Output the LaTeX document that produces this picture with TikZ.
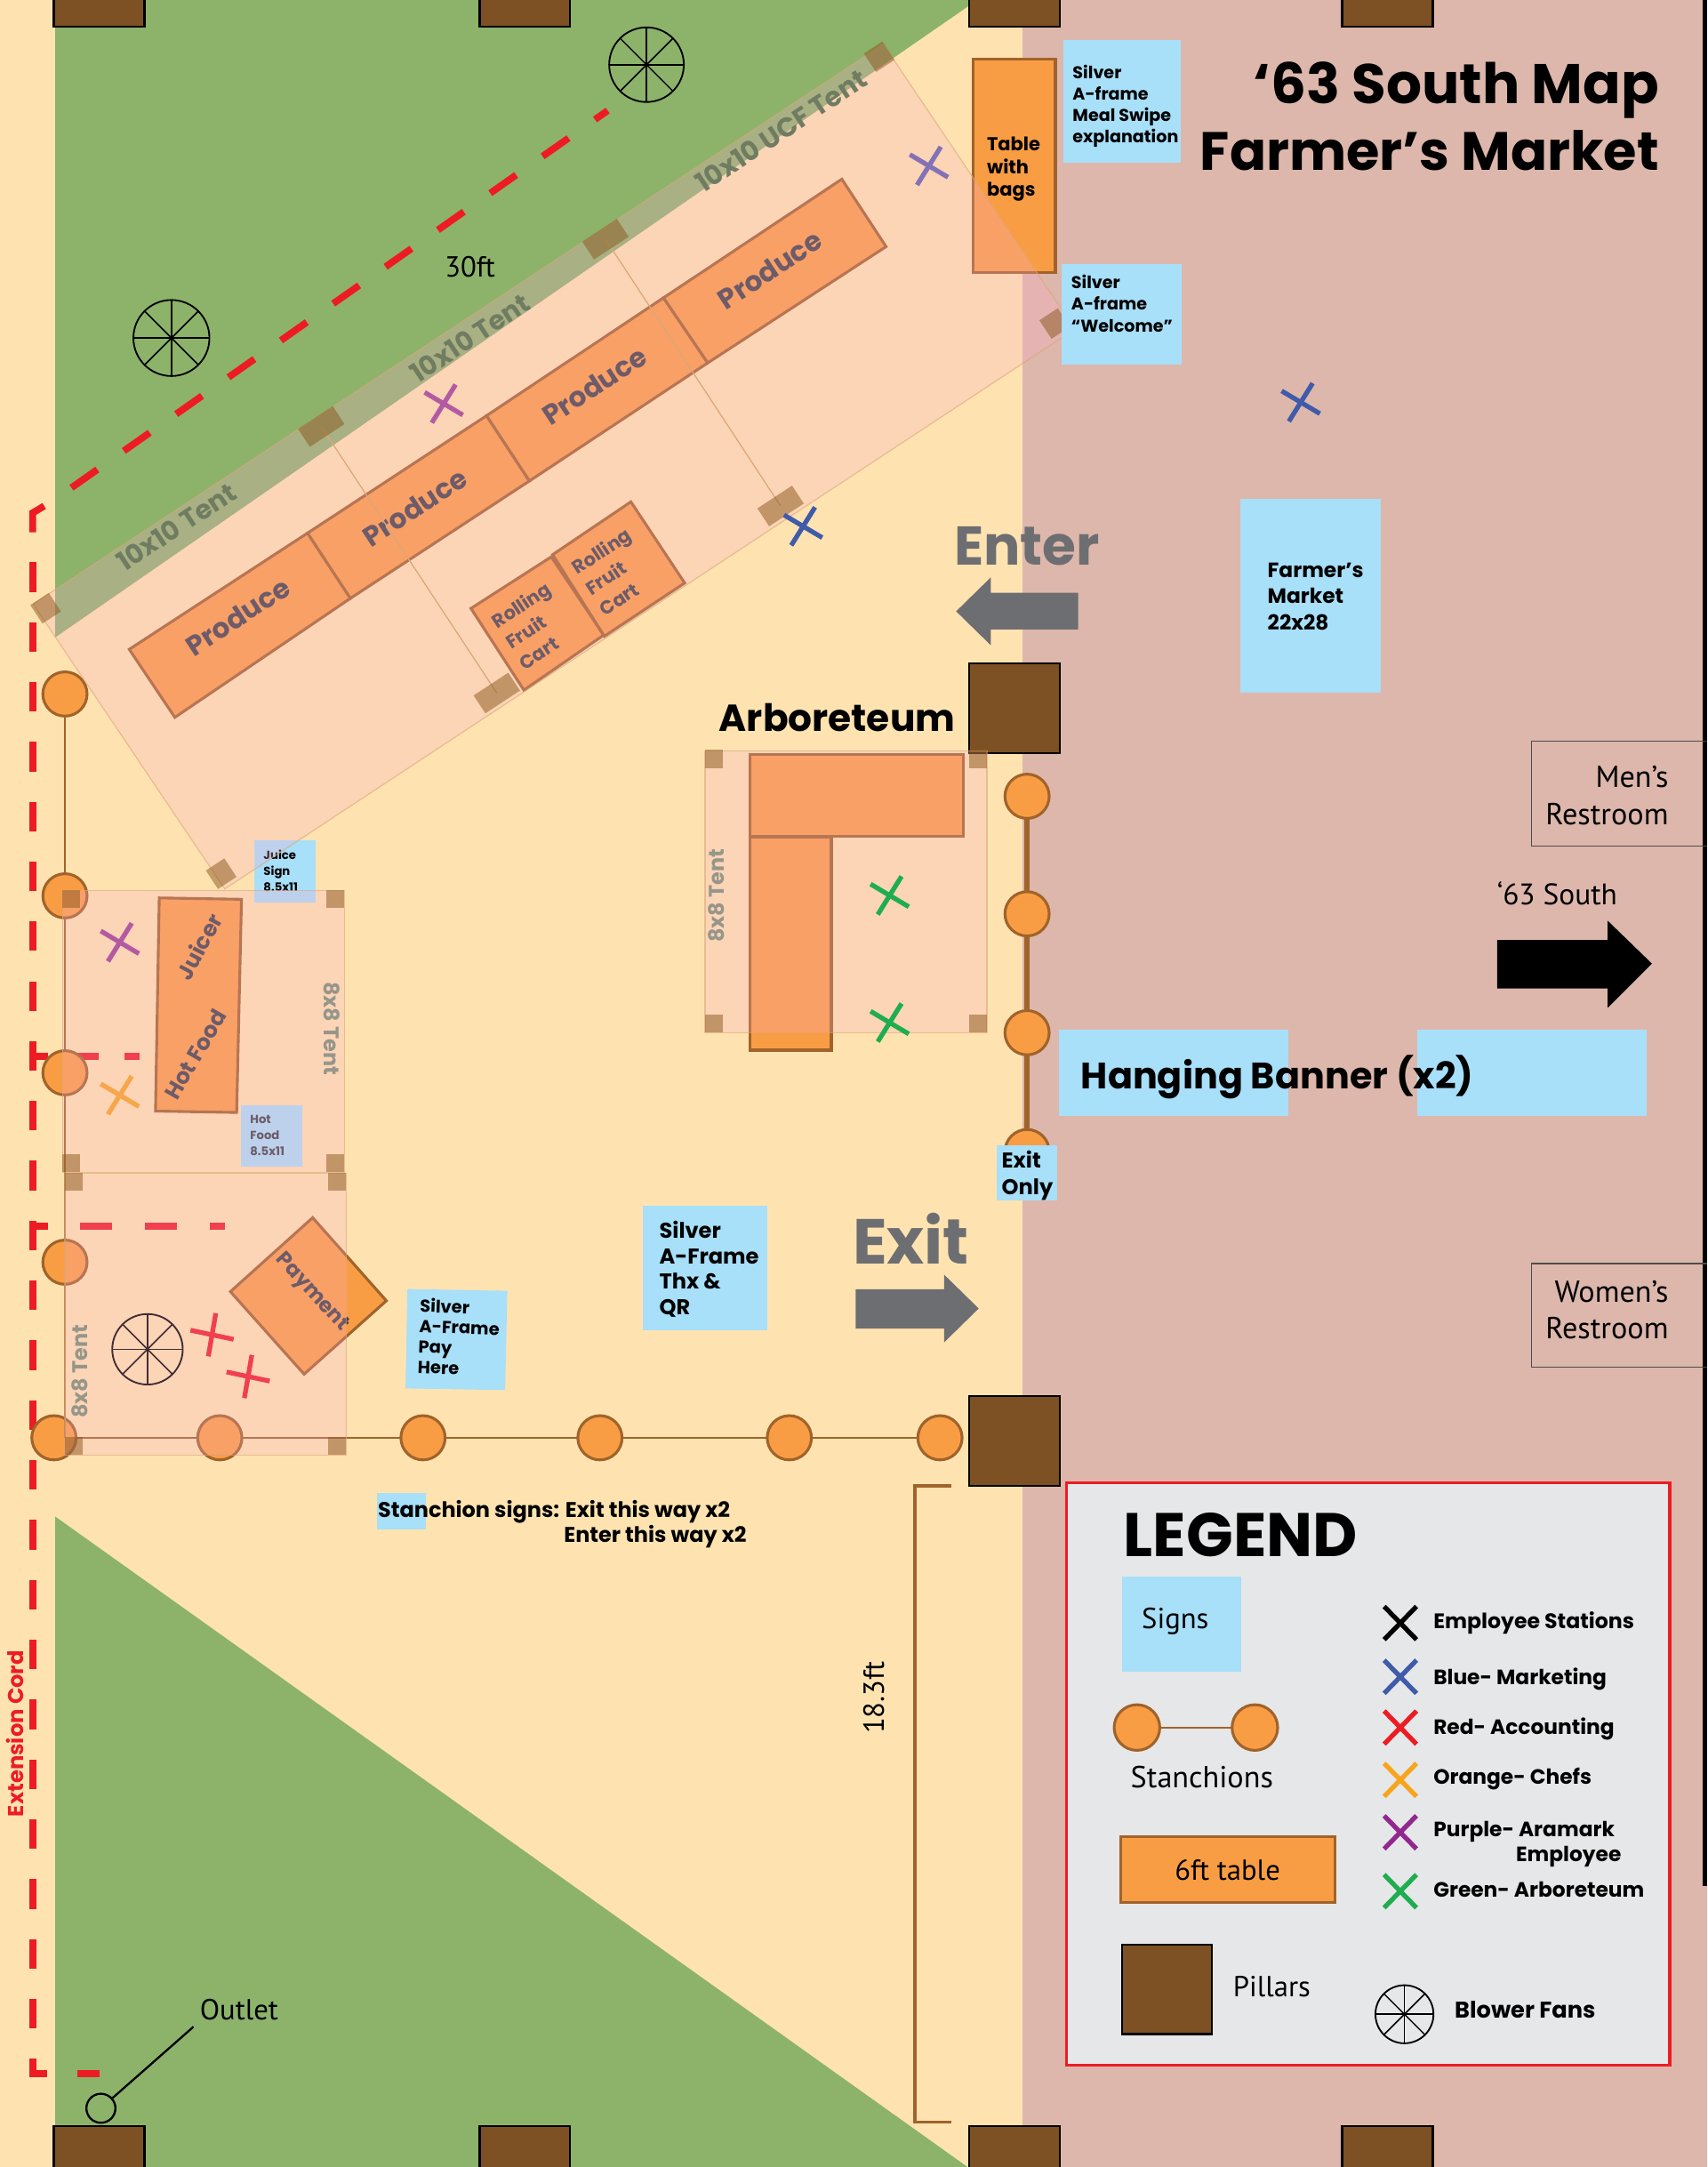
\documentclass[tikz,border=0pt]{standalone}
\usepackage{fontspec}
\setmainfont{PT Sans}
\newfontfamily\mont[BoldFont={Poppins Bold}]{Poppins}
\newcommand{\fs}[2]{\fontsize{#1}{#2}\selectfont}
\definecolor{cream}{HTML}{FEE3B1}
\definecolor{pinkbg}{HTML}{DDB7AB}
\definecolor{grass}{HTML}{8DB36B}
\definecolor{pillarc}{HTML}{7D5123}
\definecolor{tablec}{HTML}{F99D44}
\definecolor{edgec}{HTML}{A0632B}
\definecolor{signc}{HTML}{A8DFF9}
\definecolor{tentc}{HTML}{FAAAC8}
\definecolor{tentl}{HTML}{D9A878}
\definecolor{postc}{HTML}{8A581E}
\definecolor{cordc}{HTML}{ED1C24}
\definecolor{greyc}{HTML}{6D6E71}
\definecolor{legbg}{HTML}{E6E7E8}
\definecolor{labc}{HTML}{3C4048}
\definecolor{tentlab}{HTML}{96968A}
\definecolor{bandlab}{HTML}{707C62}
\definecolor{xblue}{HTML}{3F5BA9}
\definecolor{xfade}{HTML}{5A5FB0}
\definecolor{xpurple}{HTML}{92278F}
\definecolor{xpfade}{HTML}{9A3F96}
\definecolor{xorange}{HTML}{F7A51E}
\definecolor{xgreen}{HTML}{1EAD4F}
\tikzset{
 pillar/.style={fill=pillarc,draw=black,line width=1.5pt},
 tablebox/.style={fill=tablec,draw=edgec,line width=2pt,line join=miter},
 tentbox/.style={fill=tentc,fill opacity=.26,draw=tentl,draw opacity=.6,line width=.8pt},
 tentpost/.style={fill=postc,fill opacity=.5,draw=none,inner sep=0pt,outer sep=0pt,rectangle},
 stanch/.style={circle,fill=tablec,draw=edgec,line width=2pt,minimum size=32pt,inner sep=0pt,outer sep=0pt},
 rope/.style={draw=edgec,line width=1.6pt},
 cord/.style={draw=cordc,line width=5pt},
 signbg/.style={fill=signc,draw=none},
 mb/.style={font=\mont\bfseries,inner sep=0pt,outer sep=0pt},
 my/.style={inner sep=0pt,outer sep=0pt},
 xline/.style={line width=3.4pt},
 blade/.style={draw=black,line width=1.2pt},
}
\newcommand{\crossA}[3]{\draw[xline,#3] (#1-13.8,#2-8.2) -- (#1+13.8,#2+8.2) (#1+8.6,#2-13.8) -- (#1-8.6,#2+13.8);}
\newcommand{\crossB}[3]{\draw[xline,#3] (#1-15.6,#2-3.3) -- (#1+15.6,#2+3.3) (#1+2.7,#2-15.6) -- (#1-2.7,#2+15.6);}
\newcommand{\crossL}[3]{\draw[xline,#3] (#1-11.7,#2-12) -- (#1+11.7,#2+12) (#1+11.7,#2-12) -- (#1-11.7,#2+12);}
\newcommand{\fan}[3]{\begin{scope}[shift={(#1,#2)}]
 \draw[blade] (0,0) circle (#3pt);
 \foreach \a in {0,45,90,135}{\draw[blade,line width=1pt] ({\a}:#3pt) -- ({\a+180}:#3pt);}
 \end{scope}}
\newcommand{\mpost}[2]{\node[tentpost,minimum width=30pt,minimum height=15.5pt,rotate=33.3] at (#1,#2) {};}
\newcommand{\cpost}[2]{\node[tentpost,minimum width=16pt,minimum height=16pt,rotate=33.3] at (#1,#2) {};}
\newcommand{\spost}[2]{\node[tentpost,minimum width=13pt,minimum height=13pt] at (#1,#2) {};}
\begin{document}
\begin{tikzpicture}[x=1pt,y=-1pt]
\useasboundingbox (0,0) rectangle (1235,1567.5);
% ground
\fill[cream] (0,0) rectangle (740,1567.5);
\fill[pinkbg] (740,0) rectangle (1235,1567.5);
\fill[grass] (40,0) -- (707,0) -- (40,461) -- cycle;
\fill[grass] (40,1097) -- (700,1567.5) -- (40,1567.5) -- cycle;
\fill[black] (1232,0) rectangle (1235,1364);
% extension cord
\draw[cord,dash pattern=on 22.9pt off 23.4pt] (51.7,352.8) -- (439.6,80);
\draw[cord] (32,366) -- (23.6,371) -- (23.6,385);
\draw[cord,dash pattern=on 21.4pt off 21.9pt] (23.6,406.7) -- (23.6,1500) -- (72,1500);
\draw[cord] (21.3,764.3) -- (34.7,764.3) (52.8,764.3) -- (71.5,764.3) (89.9,764.3) -- (100.8,764.3);
\draw[cord] (21.3,886.8) -- (34.7,886.8) (58,886.8) -- (81.3,886.8) (104.8,886.8) -- (128,886.8) (151.5,886.8) -- (162.7,886.8);
% pillars
\foreach \px in {39,347,701,971}{
 \draw[pillar] (\px,-3) rectangle (\px+65.5,19.5);
 \draw[pillar] (\px,1538) rectangle (\px+65.5,1571);
}
\draw[pillar] (701,480) rectangle (766.5,545);
\draw[pillar] (701,1010) rectangle (766.5,1075);
% tables
\draw[tablebox] (93.5,469.7) -- (222.5,385.6) -- (253.5,432.8) -- (126.5,518.9) -- cycle;
\draw[tablebox] (222.5,385.6) -- (352,300.7) -- (383,347.9) -- (253.5,432.8) -- cycle;
\draw[tablebox] (352,300.7) -- (480,215.4) -- (512,262.5) -- (383,347.9) -- cycle;
\draw[tablebox] (480,215.4) -- (609,129.6) -- (641,178.4) -- (512,262.5) -- cycle;
\draw[tablebox] (340.7,440.1) -- (398.8,402.8) -- (436.7,459.4) -- (379,499.2) -- cycle;
\draw[tablebox] (399.8,401.2) -- (456.4,363) -- (495.3,421.7) -- (437.2,460.2) -- cycle;
\draw[tablebox] (704,42.7) rectangle (763.5,197);
\draw[tablebox] (542.4,546) rectangle (696.8,605);
\draw[tablebox] (542.4,605.5) rectangle (601.4,759.6);
\draw[tablebox] (115.2,649.5) -- (174.7,650.5) -- (171.2,804.7) -- (112.5,803.7) -- cycle;
\draw[tablebox] (226.2,880.8) -- (279.5,940.9) -- (220,994) -- (166.7,934.3) -- cycle;
% table labels
\foreach \nm/\cx/\cy in {prodA/172/446,prodB/300/367,prodC/430/279,prodD/557/195}{
 \node[mb,font=\mont\bfseries\fs{20}{24},text=labc,rotate=33.3] (\nm) at (\cx,\cy) {Produce};
}
\node[mb,font=\mont\bfseries\fs{13.5}{18},text=labc,rotate=33.3,align=left,anchor=west] (cartA) at (367,465.6) {Rolling\\Fruit\\Cart};
\node[mb,font=\mont\bfseries\fs{13.5}{18},text=labc,rotate=33.3,align=left,anchor=west] (cartB) at (425,426.6) {Rolling\\Fruit\\Cart};
\node[mb,font=\mont\bfseries\fs{16}{20},text=labc,rotate=62] (juicer) at (144,684.6) {Juicer};
\node[mb,font=\mont\bfseries\fs{16}{20},text=labc,rotate=60] (hotfood) at (141.4,762.7) {Hot Food};
\node[mb,font=\mont\bfseries\fs{15}{20},text=labc,rotate=-47.5] (payment) at (225.4,935) {Payment};
\node[mb,font=\mont\bfseries\fs{13.5}{16.5},anchor=north west,align=left] (bags) at (714,99) {Table\\with\\bags};
% stanchions
\foreach \nm/\sx/\sy in {a/47/502,b/47/648,c/47/776,d/47/913,e/39/1040,f/159/1040,g/306/1040,h/434/1040,i/571/1040,j/680/1040,k/743/576,l/743/661,m/743/747,n/743/833}{
 \node[stanch] (\nm) at (\sx,\sy) {};
}
\draw[rope] (a) -- (b);
\draw[rope] (b) -- (c);
\draw[rope] (c) -- (d);
\draw[rope] (d) -- (47,1040);
\draw[rope] (e) -- (f);
\draw[rope] (f) -- (g);
\draw[rope] (g) -- (h);
\draw[rope] (h) -- (i);
\draw[rope] (i) -- (j);
\draw[rope,line width=3.5pt] (k) -- (l);
\draw[rope,line width=3.5pt] (l) -- (m);
\draw[rope,line width=3.5pt] (m) -- (n);
% signs beneath the tents
\fill[signbg] (184,608) rectangle (228.6,652.8);
\node[mb,font=\mont\bfseries\fs{8.5}{11.5},anchor=north west,align=left] (juice) at (190.7,615) {Juice\\Sign\\8.5x11};
\fill[signbg] (174.2,799.5) rectangle (218.7,843.7);
\node[mb,font=\mont\bfseries\fs{8.5}{11.5},anchor=north west,align=left,text=labc] (hot) at (181,807) {Hot\\Food\\8.5x11};
% crosses and fans beneath the tents
\crossA{321}{292}{color=xpfade}
\crossA{672}{120}{color=xfade}
\crossA{86.7}{681.6}{color=xpfade}
\crossA{86.7}{792.2}{color=xorange}
\crossB{153.4}{965.5}{color=cordc}
\crossB{179.5}{995.7}{color=cordc}
\fan{106.7}{976}{25.5}
% tents
\draw[tentbox] (24,437) -- (639,32) -- (777.6,238) -- (162.6,643) -- cycle;
\draw[tentbox] (510,543) rectangle (714,747);
\draw[tentbox] (45.3,644) rectangle (249,848);
\draw[tentbox] (47,848.7) rectangle (250.7,1052.5);
\draw[tentl,line width=.8pt] (438,173) -- (564.7,366) (232.4,308.5) -- (359.4,501.3);
% tent posts
\mpost{438}{173}\mpost{232.4}{308.5}\mpost{564.7}{366}\mpost{359.4}{501.3}
\cpost{33}{440}\cpost{636}{41}\cpost{763}{234}\cpost{160}{632}
\spost{516.5}{549}\spost{707.5}{549}\spost{516.5}{740.5}\spost{707.5}{740.5}
\spost{51.7}{650.5}\spost{242.5}{650.5}\spost{51.7}{841.5}\spost{242.5}{841.5}
\spost{53.5}{855}\spost{244}{855}\spost{53.5}{1046}\spost{244}{1046}
% tent labels
\node[mb,font=\mont\bfseries\fs{19.2}{21},text=bandlab,rotate=33.3] (tentA) at (127.5,381) {10x10 Tent};
\node[mb,font=\mont\bfseries\fs{19.2}{21},text=bandlab,rotate=33.3] (tentB) at (340,244.5) {10x10 Tent};
\node[mb,font=\mont\bfseries\fs{19.5}{21},text=bandlab,rotate=33.3] (tentC) at (565,94.5) {10x10 UCF Tent};
\node[mb,font=\mont\bfseries\fs{15.4}{17},text=tentlab,rotate=-90] (tentD) at (240,744) {8x8 Tent};
\node[mb,font=\mont\bfseries\fs{15.4}{17},text=tentlab,rotate=90] (tentE) at (58,992) {8x8 Tent};
\node[mb,font=\mont\bfseries\fs{15.4}{17},text=tentlab,rotate=90] (tentF) at (518,648) {8x8 Tent};
% crosses above the tents
\crossA{581}{380.7}{color=xblue}
\crossA{941}{291}{color=xblue}
\crossA{643.6}{647.7}{color=xgreen}
\crossA{643.6}{739.7}{color=xgreen}
% fans above
\fan{467.7}{46.8}{27}
\fan{124}{244.5}{27.5}
% signs
\fill[signbg] (769,29) rectangle (854,118);
\node[mb,font=\mont\bfseries\fs{12.3}{15.4},anchor=north west,align=left] (signA) at (776,47) {Silver\\A-frame\\Meal Swipe\\explanation};
\fill[signbg] (768,191) rectangle (855,264);
\node[mb,font=\mont\bfseries\fs{12.3}{15.6},anchor=north west,align=left] (signB) at (775,199) {Silver\\A-frame\\“Welcome”};
\fill[signbg] (897,361) rectangle (999,501);
\node[mb,font=\mont\bfseries\fs{15}{19},anchor=north west,align=left] (signC) at (917,407) {Farmer’s\\Market\\22x28};
\fill[signbg] (294.7,932.4) -- (367,933.7) -- (365.4,1005.5) -- (293.4,1004.3) -- cycle;
\node[mb,font=\mont\bfseries\fs{12.5}{14.8},anchor=north west,align=left,rotate=-2] (signD) at (304,939) {Silver\\A-Frame\\Pay\\Here};
\fill[signbg] (465,872) rectangle (555,962);
\node[mb,font=\mont\bfseries\fs{15.5}{18.3},anchor=north west,align=left] (signE) at (477,883.5) {Silver\\A-Frame\\Thx \&\\QR};
\fill[signbg] (721,828.5) rectangle (765,868.3);
\node[mb,font=\mont\bfseries\fs{15.5}{19},anchor=north west,align=left] (signF) at (724.7,832.5) {Exit\\Only};
\fill[signbg] (766,745) rectangle (932,807);
\fill[signbg] (1025,745) rectangle (1191,807);
\node[mb,font=\mont\bfseries\fs{26.6}{30},anchor=west] (banner) at (782,779) {Hanging Banner (x2)};
\fill[signbg] (273,1080) rectangle (308,1106);
\node[mb,font=\mont\bfseries\fs{15.4}{18},anchor=west] (stanA) at (273.5,1093.5) {Stanchion signs: Exit this way x2};
\node[mb,font=\mont\bfseries\fs{15.4}{18},anchor=west] (stanB) at (408,1111.5) {Enter this way x2};
% titles
\node[mb,font=\mont\bfseries\fs{40.4}{44},anchor=base east] (titleA) at (1200,75) {‘63 South Map};
\node[mb,font=\mont\bfseries\fs{39}{44},anchor=base east] (titleB) at (1200,123) {Farmer’s Market};
\node[mb,font=\mont\bfseries\fs{39.5}{42},text=greyc] (enter) at (743,395) {Enter};
\fill[greyc] (691.7,442.2) -- (716.8,417.6) -- (716.8,428.7) -- (780,428.7) -- (780,455.3) -- (716.8,455.3) -- (716.8,466.8) -- cycle;
\node[mb,font=\mont\bfseries\fs{46}{50},text=greyc] (exit) at (659,896) {Exit};
\fill[greyc] (619,932.5) -- (683,932.5) -- (683,922) -- (708,946.5) -- (683,971) -- (683,961) -- (619,961) -- cycle;
\node[mb,font=\mont\bfseries\fs{27.2}{32},anchor=base east] (arbor) at (691,529) {Arboreteum};
\fill[black] (1083,680) -- (1163,680) -- (1163,666) -- (1195,697) -- (1163,729) -- (1163,715) -- (1083,715) -- cycle;
\node[my,font=\fs{21.5}{24},anchor=west] (south) at (1083,646) {‘63 South};
\draw[draw=black!70,line width=.8pt] (1235,536) -- (1108,536) -- (1108,612) -- (1235,612);
\draw[draw=black!70,line width=.8pt] (1235,914) -- (1108,914) -- (1108,989) -- (1235,989);
\node[my,font=\fs{22}{27},align=right,anchor=east] (men) at (1207,575.5) {Men’s\hspace{4pt}\\Restroom};
\node[my,font=\fs{22}{27},align=right,anchor=east] (women) at (1207,947.5) {Women’s\\Restroom};
\node[my,font=\fs{21}{24}] (thirty) at (340,193) {30ft};
\node[my,font=\fs{21}{24},rotate=90] (eighteen) at (632,1228) {18.3ft};
\coordinate (brTop) at (688,1075);
\coordinate (brBot) at (688,1535);
\draw[draw=edgec,line width=2.5pt] (brTop) -- (662,1075) -- (662,1535) -- (brBot);
\node[mb,font=\mont\bfseries\fs{15.6}{17},text=cordc,rotate=90] (extcord) at (11,1254) {Extension Cord};
\node[circle,draw=black,line width=1.5pt,minimum size=21pt,inner sep=0pt] (outlet) at (73,1525) {};
\coordinate (outletEnd) at (140,1466);
\draw[black,line width=1.5pt] (outlet) -- (outletEnd);
\node[my,font=\fs{21}{24}] (outletLab) at (173,1454) {Outlet};
% legend
\draw[fill=legbg,draw=cordc,line width=2pt] (771.3,1072.7) rectangle (1207.9,1493.7);
\node[mb,font=\mont\bfseries\fs{44.5}{48},anchor=west] (legend) at (813,1110) {LEGEND};
\fill[signbg] (811.7,1140.2) rectangle (897.7,1209.4);
\node[my,font=\fs{21}{24},anchor=west] (legSigns) at (826,1173) {Signs};
\node[stanch,minimum size=33pt] (legA) at (822.5,1249.6) {};
\node[stanch,minimum size=33pt] (legB) at (907.8,1249.6) {};
\draw[rope] (legA) -- (legB);
\node[my,font=\fs{22}{24}] (legStan) at (869.5,1285.5) {Stanchions};
\draw[tablebox] (811,1328.3) rectangle (966,1376);
\node[my,font=\fs{21}{24}] (legTable) at (888,1353) {6ft table};
\draw[pillar] (811.7,1406.7) rectangle (876.8,1471.3);
\node[my,font=\fs{21}{24}] (legPillar) at (920,1437) {Pillars};
\crossL{1013}{1174}{color=black}
\crossL{1013}{1212.9}{color=xblue}
\crossL{1013}{1249.6}{color=cordc}
\crossL{1013}{1287.5}{color=xorange}
\crossL{1013}{1325.4}{color=xpurple}
\crossL{1013}{1368}{color=xgreen}
\fan{1016}{1457}{21}
\node[mb,font=\mont\bfseries\fs{15.2}{18},anchor=west] (lA) at (1037,1174) {Employee Stations};
\node[mb,font=\mont\bfseries\fs{15}{18},anchor=west] (lB) at (1037,1214.4) {Blue- Marketing};
\node[mb,font=\mont\bfseries\fs{15}{18},anchor=west] (lC) at (1037,1250.5) {Red- Accounting};
\node[mb,font=\mont\bfseries\fs{15}{18},anchor=west] (lD) at (1037,1286.5) {Orange- Chefs};
\node[mb,font=\mont\bfseries\fs{15}{18},anchor=west] (lE) at (1037,1324.9) {Purple- Aramark};
\node[mb,font=\mont\bfseries\fs{15}{18},anchor=west] (lF) at (1096.7,1343) {Employee};
\node[mb,font=\mont\bfseries\fs{15}{18},anchor=west] (lG) at (1037,1366.5) {Green- Arboreteum};
\node[mb,font=\mont\bfseries\fs{16.5}{18},anchor=west] (lH) at (1052.4,1453.5) {Blower Fans};
\end{tikzpicture}
\end{document}
